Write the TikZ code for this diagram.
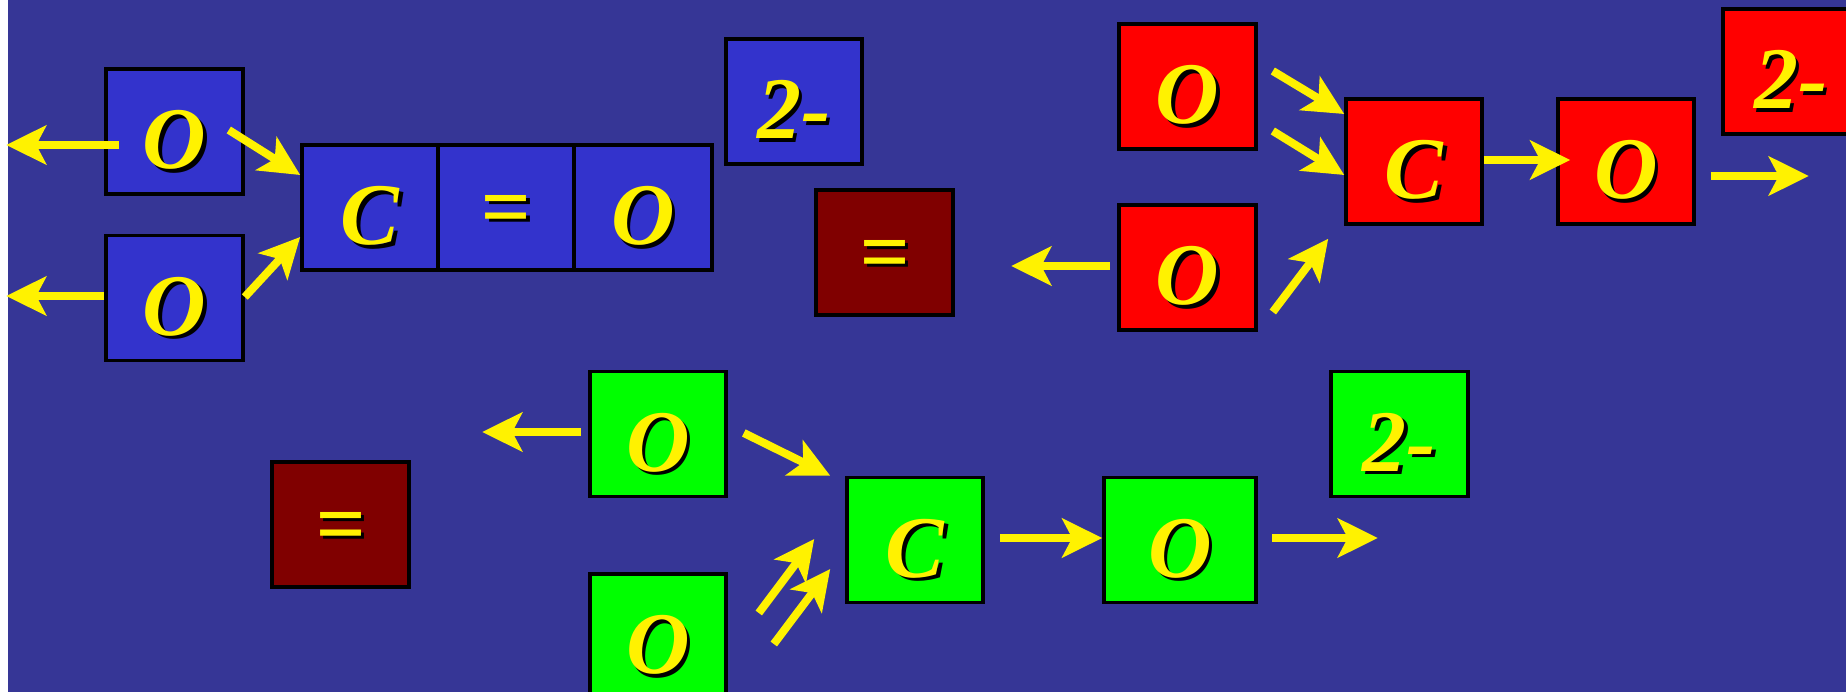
\documentclass[tikz,border=0pt]{standalone}
\usepackage{fontspec}
\setmainfont{Liberation Serif}
\usetikzlibrary{arrows.meta,calc}
\definecolor{slate}{RGB}{54,54,150}
\definecolor{bluebox}{RGB}{51,51,204}
\definecolor{maroonbox}{RGB}{128,0,0}
\newcommand{\shtxt}[1]{\raisebox{-0.08cm}[\height][0pt]{\makebox[0pt][l]{\textcolor{black}{\kern1pt\raisebox{-1pt}{#1}}}#1}}
\tikzset{
  atom/.style={draw=black,line width=1pt,minimum width=1.36cm,minimum height=1.25cm,
    inner sep=0pt,text=yellow,font=\fontsize{25}{30}\selectfont\bfseries\itshape},
  arr/.style={yellow,line width=0.08cm,-{Stealth[length=4mm,width=3.9mm,inset=1mm]}}
}

\begin{document}
\begin{tikzpicture}[x=0.01cm,y=-0.01cm]
\useasboundingbox (0,0) rectangle (1846,692);
\clip (0,0) rectangle (1846,692);
\fill[white] (0,0) rectangle (8,692);
\fill[slate] (8,0) rectangle (1846,692);

% blue molecule
\node[atom,fill=bluebox,minimum width=1.37cm] (bo1) at (174.5,131.5) {\shtxt{O}};
\node[atom,fill=bluebox,minimum width=1.37cm] (bo2) at (174.5,298) {\shtxt{O}};
\node[atom,fill=bluebox] (bc) at (370,207.5) {\shtxt{C}};
\node[atom,fill=bluebox] (bd) at (506,207.5) {\shtxt{=}};
\node[atom,fill=bluebox,minimum width=1.38cm] (bo3) at (643,207.5) {\shtxt{O}};
\node[atom,fill=bluebox] (bq) at (794,101.5) {\shtxt{2-}};
\node[atom,fill=maroonbox,minimum width=1.37cm] (m1) at (884.5,252.5) {\shtxt{=}};
\draw[arr] ($(bo1.west)+(15,13.5)$) -- ++(-113,0);
\draw[arr] ($(bo2.west)+(0,-2)$) -- ++(-98,0);
\draw[arr] ($(bo1.east)+(-16,-1.5)$) -- ($(bc.west)+(0,-32.5)$);
\draw[arr] ($(bo2.east)+(0,-1)$) -- ($(bc.west)+(0,29.5)$);

% red molecule
\node[atom,fill=red,minimum width=1.37cm] (ro1) at (1187.5,86.5) {\shtxt{O}};
\node[atom,fill=red,minimum width=1.37cm] (ro2) at (1187.5,267.5) {\shtxt{O}};
\node[atom,fill=red] (rc) at (1414,161.5) {\shtxt{C}};
\node[atom,fill=red] (ro3) at (1626,161.5) {\shtxt{O}};
\node[atom,fill=red] (rq) at (1791,71.5) {\shtxt{2-}};
\draw[arr] ($(ro1.east)+(15,-15.5)$) -- ($(rc.west)+(0,-47.5)$);
\draw[arr] ($(ro1.east)+(15,44.5)$) -- ($(rc.west)+(0,13.5)$);
\draw[arr] ($(ro2.east)+(15,44.5)$) -- ($(rc.south west)+(-16,13)$);
\draw[arr] ($(rc.east)+(0,-1.5)$) -- ($(ro3.west)+(14,-1.5)$);
\draw[arr] ($(ro3.east)+(15,14.5)$) -- ++(98,0);
\draw[arr] ($(ro2.west)+(-7,-1.5)$) -- ++(-99,0);

% green molecule
\node[atom,fill=green] (go1) at (658,434) {\shtxt{O}};
\node[atom,fill=green] (go2) at (658,636.5) {\shtxt{O}};
\node[atom,fill=green] (gc) at (915,540) {\shtxt{C}};
\node[atom,fill=green,minimum width=1.52cm] (go3) at (1180,540) {\shtxt{O}};
\node[atom,fill=green,minimum width=1.37cm] (gq) at (1399.5,434) {\shtxt{2-}};
\node[atom,fill=maroonbox,minimum width=1.37cm] (m2) at (340.5,524.5) {\shtxt{=}};
\draw[arr] ($(go1.west)+(-7,-2)$) -- ++(-99,0);
\draw[arr] ($(go1.east)+(16,-1)$) -- ($(gc.north west)+(-15,0)$);
\draw[arr] ($(go2.east)+(31,-23.5)$) -- ($(gc.west)+(-31,-1)$);
\draw[arr] ($(go2.east)+(46,7.5)$) -- ($(gc.west)+(-15,29)$);
\draw[arr] ($(gc.east)+(15,-2)$) -- ($(go3.west)+(0,-2)$);
\draw[arr] ($(go3.east)+(14,-2)$) -- ++(106,0);
\end{tikzpicture}
\end{document}
